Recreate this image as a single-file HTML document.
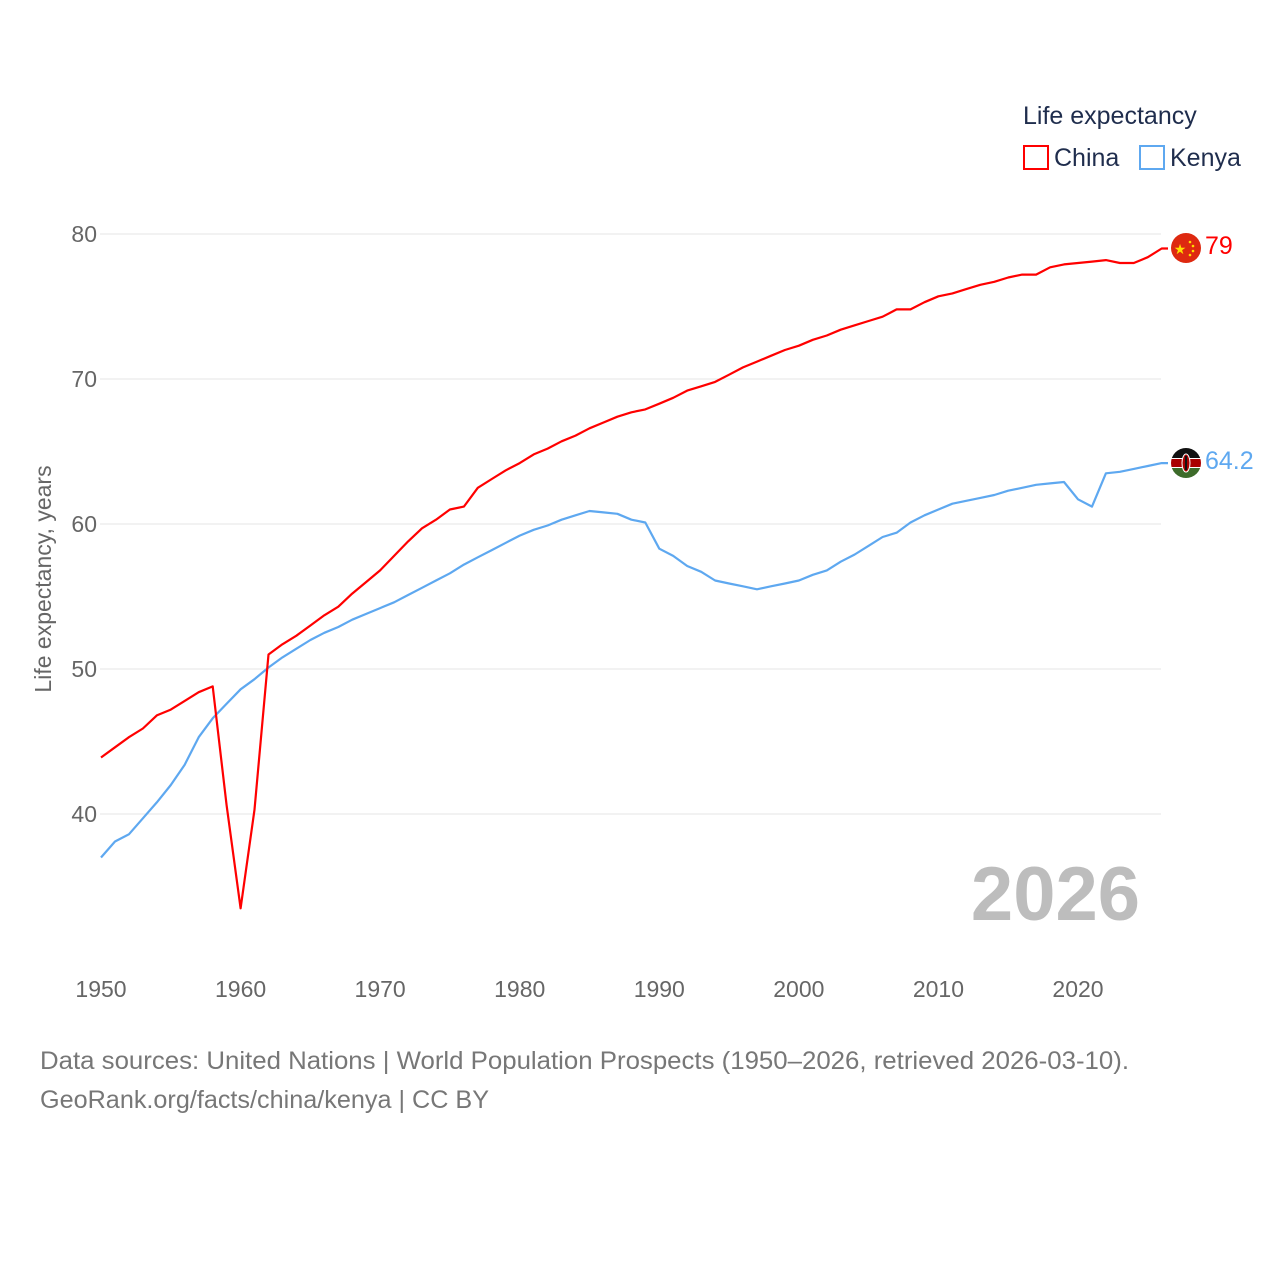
<!DOCTYPE html>
<html><head><meta charset="utf-8"><style>
html,body{margin:0;padding:0;background:#fff;}
svg{display:block;font-family:"Liberation Sans",sans-serif;}
</style></head><body>
<svg id="chart" width="1280" height="1280" viewBox="0 0 1280 1280" xmlns="http://www.w3.org/2000/svg">
<g id="grid"></g>
<g id="yticks"></g>
<g id="xticks"></g>
<text transform="translate(51,579) rotate(-90)" text-anchor="middle" font-size="23" fill="#666">Life expectancy, years</text>
<text x="1140" y="920" text-anchor="end" font-size="76" font-weight="bold" fill="#bdbdbd">2026</text>
<g id="series"></g>
<g>
<text x="1023" y="124" font-size="25" fill="#1f2d4d">Life expectancy</text>
<g><rect x="1024" y="146" width="24" height="23" fill="none" stroke="#f00" stroke-width="2"/><text x="1054" y="166" font-size="25" fill="#1f2d4d">China</text></g>
<g><rect x="1140" y="146" width="24" height="23" fill="none" stroke="#5ea8f0" stroke-width="2"/><text x="1170" y="166" font-size="25" fill="#1f2d4d">Kenya</text></g>
</g>
<g>
<circle cx="1186" cy="248" r="15" fill="#de2910"/>
<text x="1180" y="254" font-size="14" fill="#ffde00" text-anchor="middle">★</text>
<circle cx="1190" cy="242" r="1.3" fill="#ffde00"/><circle cx="1193" cy="246" r="1.3" fill="#ffde00"/><circle cx="1193" cy="251" r="1.3" fill="#ffde00"/><circle cx="1190" cy="255" r="1.3" fill="#ffde00"/>
</g>
<clipPath id="kc"><circle cx="1186" cy="463" r="15"/></clipPath>
<g clip-path="url(#kc)">
<rect x="1170" y="447" width="32" height="11" fill="#111"/>
<rect x="1170" y="458" width="32" height="10" fill="#fff"/>
<rect x="1170" y="459" width="32" height="8" fill="#a00"/>
<rect x="1170" y="468" width="32" height="11" fill="#3d6b2a"/>
<ellipse cx="1186" cy="463" rx="4" ry="9" fill="#a00" stroke="#fff" stroke-width="1"/>
<rect x="1185" y="456" width="2" height="14" fill="#111"/>
</g>
<text x="1205" y="254" font-size="25" fill="#f00">79</text>
<text x="1205" y="469" font-size="25" fill="#5ea8f0">64.2</text>
<text x="40" y="1069" font-size="25" fill="#777" textLength="1089" lengthAdjust="spacingAndGlyphs">Data sources: United Nations | World Population Prospects (1950–2026, retrieved 2026-03-10).</text>
<text x="40" y="1108" font-size="25" fill="#777" textLength="449" lengthAdjust="spacingAndGlyphs">GeoRank.org/facts/china/kenya | CC BY</text>
</svg>
<script>
const years=[];for(let y=1950;y<=2026;y++)years.push(y);
const china=[43.9,44.6,45.3,45.9,46.8,47.2,47.8,48.4,48.8,40.6,33.5,40.3,51.0,51.7,52.3,53.0,53.7,54.3,55.2,56.0,56.8,57.8,58.8,59.7,60.3,61.0,61.2,62.5,63.1,63.7,64.2,64.8,65.2,65.7,66.1,66.6,67.0,67.4,67.7,67.9,68.3,68.7,69.2,69.5,69.8,70.3,70.8,71.2,71.6,72.0,72.3,72.7,73.0,73.4,73.7,74.0,74.3,74.8,74.8,75.3,75.7,75.9,76.2,76.5,76.7,77.0,77.2,77.2,77.7,77.9,78.0,78.1,78.2,78.0,78.0,78.4,79.0];
const kenya=[37.0,38.1,38.6,39.7,40.8,42.0,43.4,45.3,46.6,47.6,48.6,49.3,50.1,50.8,51.4,52.0,52.5,52.9,53.4,53.8,54.2,54.6,55.1,55.6,56.1,56.6,57.2,57.7,58.2,58.7,59.2,59.6,59.9,60.3,60.6,60.9,60.8,60.7,60.3,60.1,58.3,57.8,57.1,56.7,56.1,55.9,55.7,55.5,55.7,55.9,56.1,56.5,56.8,57.4,57.9,58.5,59.1,59.4,60.1,60.6,61.0,61.4,61.6,61.8,62.0,62.3,62.5,62.7,62.8,62.9,61.7,61.2,63.5,63.6,63.8,64.0,64.2];
const yTicks=[40,50,60,70,80];
const xTicks=[1950,1960,1970,1980,1990,2000,2010,2020];
const NS="http://www.w3.org/2000/svg";
const xs=v=>101+(v-1950)*(1078-101)/70;
const ys=v=>234+(80-v)*14.5;
function mk(t,a,p){const e=document.createElementNS(NS,t);for(const k in a)e.setAttribute(k,a[k]);p.appendChild(e);return e;}
const grid=document.getElementById('grid'),yt=document.getElementById('yticks'),xt=document.getElementById('xticks'),se=document.getElementById('series');
yTicks.forEach(v=>{
 const l=mk('line',{x1:100,x2:1161,y1:ys(v),y2:ys(v),stroke:'#e6e6e6','stroke-width':1},grid);
 
 
 const t=mk('text',{x:97,y:ys(v)+8,'text-anchor':'end','font-size':23,fill:'#666'},yt);t.textContent=v;
 
 
});
xTicks.forEach(v=>{
 const t=mk('text',{x:xs(v),y:997,'text-anchor':'middle','font-size':23,fill:'#666'},xt);t.textContent=v;
 
 
});
function line(data,color,name){
 let d=data.map((v,i)=>(i?'L':'M')+xs(years[i]).toFixed(1)+','+ys(v).toFixed(1)).join('');
 d+='L1168,'+ys(data[data.length-1]).toFixed(1);
 const p=mk('path',{d:d,fill:'none',stroke:color,'stroke-width':2.2,'stroke-linejoin':'round'},se);
 
 
}
line(kenya,'#5ea8f0','kenya-line');
line(china,'#f00','china-line');
</script>
</body></html>
